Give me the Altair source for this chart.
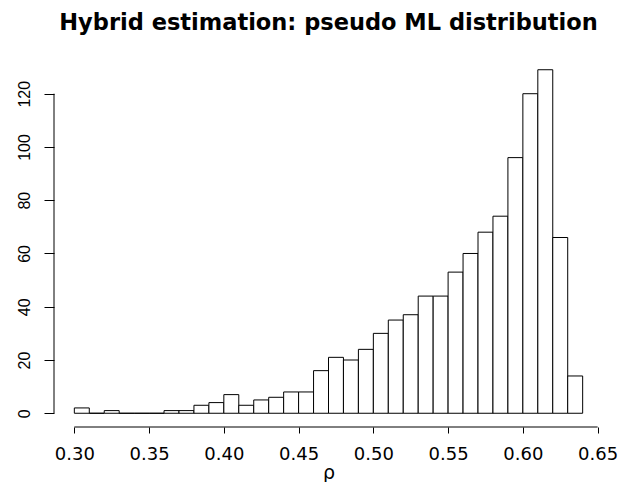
import altair as alt
import pandas as pd

# Histogram of pseudo ML estimates of rho (bin width 0.01)
bin_start = [0.30, 0.31, 0.32, 0.33, 0.34, 0.35, 0.36, 0.37, 0.38, 0.39,
             0.40, 0.41, 0.42, 0.43, 0.44, 0.45, 0.46, 0.47, 0.48, 0.49,
             0.50, 0.51, 0.52, 0.53, 0.54, 0.55, 0.56, 0.57, 0.58, 0.59,
             0.60, 0.61, 0.62, 0.63]
counts = [2, 0, 1, 0, 0, 0, 1, 1, 3, 4,
          7, 3, 5, 6, 8, 8, 16, 21, 20, 24,
          30, 35, 37, 44, 44, 53, 60, 68, 74, 96,
          120, 129, 66, 14]
bin_width = 0.01
x_ticks = [0.30, 0.35, 0.40, 0.45, 0.50, 0.55, 0.60, 0.65]
y_ticks = [0, 20, 40, 60, 80, 100, 120]

df = pd.DataFrame({
    "start": bin_start,
    "end": [round(s + bin_width, 2) for s in bin_start],
    "count": counts,
    "base": [0] * len(counts),
})

W, H = 549, 371
FONT = "Liberation Sans"
WIDE = "DejaVu Sans"

# R-style extended ranges (4% each side)
xr = (bin_start[0], bin_start[-1] + bin_width)
xpad = (xr[1] - xr[0]) * 0.04
yr = (0, max(counts))
ypad = (yr[1] - yr[0]) * 0.04
xscale = alt.Scale(domain=[xr[0] - xpad, xr[1] + xpad], nice=False, zero=False)
yscale = alt.Scale(domain=[yr[0] - ypad, yr[1] + ypad], nice=False, zero=False)

bars = alt.Chart(df).mark_bar(fill="white", stroke="black", strokeWidth=1).encode(
    x=alt.X("start:Q", scale=xscale,
            axis=alt.Axis(values=x_ticks, format=".2f", title="ρ", domain=False, grid=False,
                          tickSize=6, tickColor="black", labelPadding=12,
                          labelFontSize=18, labelFont=WIDE, labelColor="black",
                          titleFont=WIDE, titleFontSize=19, titleFontWeight="normal",
                          titleColor="black", titleBaseline="alphabetic", titlePadding=15)),
    x2="end:Q",
    y=alt.Y("count:Q", scale=yscale,
            axis=alt.Axis(values=y_ticks, title=None, domain=False, grid=False,
                          tickSize=10, tickColor="black", labelPadding=15,
                          labelAngle=270, labelAlign="center", labelBaseline="alphabetic",
                          labelFontSize=16, labelFont=FONT, labelColor="black")),
    y2="base:Q",
)

xline = alt.Chart(pd.DataFrame({"a": [x_ticks[0]], "b": [x_ticks[-1]]})).mark_rule(
    color="black", strokeWidth=1).encode(
    x=alt.X("a:Q", scale=xscale), x2="b:Q", y=alt.value(H))

yline = alt.Chart(pd.DataFrame({"a": [y_ticks[0]], "b": [y_ticks[-1]]})).mark_rule(
    color="black", strokeWidth=1).encode(
    y=alt.Y("a:Q", scale=yscale), y2="b:Q", x=alt.value(0))

chart = alt.layer(bars, xline, yline).properties(
    width=W, height=H,
    background="white",
    title=alt.TitleParams(text="Hybrid estimation: pseudo ML distribution",
                          font=WIDE, fontSize=22.5, fontWeight="bold", color="black",
                          anchor="middle", frame="group", baseline="alphabetic", offset=4),
    padding={"left": 46, "top": 48, "right": 15, "bottom": 55},
    autosize=alt.AutoSizeParams(type="none"),
).configure_view(stroke=None, strokeWidth=0)

chart.save("out.html", embed_options={"renderer": "svg", "actions": False})
